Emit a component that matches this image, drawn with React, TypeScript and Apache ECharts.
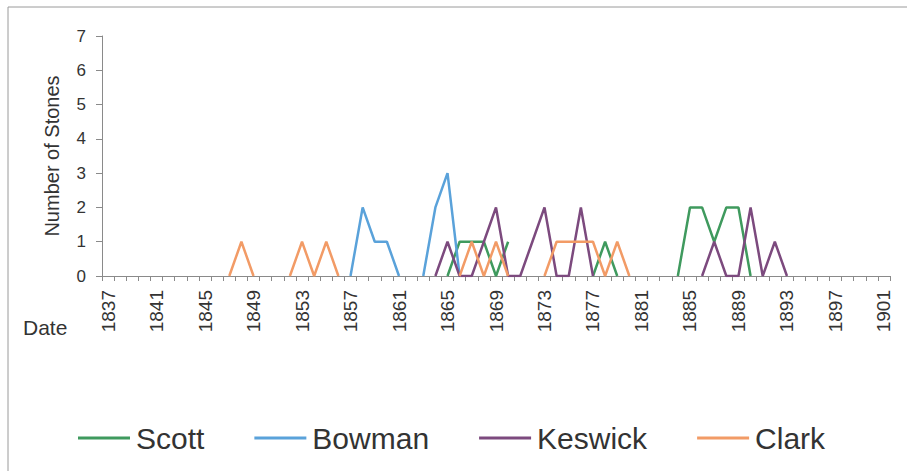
import React, { useEffect, useRef } from "react";
import * as echarts from "echarts";

const years: string[] = [
  "1837","1838","1839","1840","1841","1842","1843","1844","1845","1846",
  "1847","1848","1849","1850","1851","1852","1853","1854","1855","1856",
  "1857","1858","1859","1860","1861","1862","1863","1864","1865","1866",
  "1867","1868","1869","1870","1871","1872","1873","1874","1875","1876",
  "1877","1878","1879","1880","1881","1882","1883","1884","1885","1886",
  "1887","1888","1889","1890","1891","1892","1893","1894","1895","1896",
  "1897","1898","1899","1900","1901",
];

// [year, stones] — years not listed are blank (gaps)
const scott: [number, number][] = [
  [1865, 0], [1866, 1], [1867, 1], [1868, 1], [1869, 0], [1870, 1],
  [1877, 0], [1878, 1], [1879, 0],
  [1884, 0], [1885, 2], [1886, 2], [1887, 1], [1888, 2], [1889, 2], [1890, 0],
];
const bowman: [number, number][] = [
  [1857, 0], [1858, 2], [1859, 1], [1860, 1], [1861, 0],
  [1863, 0], [1864, 2], [1865, 3], [1866, 0],
];
const keswick: [number, number][] = [
  [1864, 0], [1865, 1], [1866, 0], [1867, 0], [1868, 1], [1869, 2], [1870, 0],
  [1871, 0], [1872, 1], [1873, 2], [1874, 0], [1875, 0], [1876, 2], [1877, 0],
  [1886, 0], [1887, 1], [1888, 0], [1889, 0], [1890, 2], [1891, 0], [1892, 1], [1893, 0],
];
const clark: [number, number][] = [
  [1847, 0], [1848, 1], [1849, 0],
  [1852, 0], [1853, 1], [1854, 0], [1855, 1], [1856, 0],
  [1866, 0], [1867, 1], [1868, 0], [1869, 1], [1870, 0],
  [1873, 0], [1874, 1], [1875, 1], [1876, 1], [1877, 1], [1878, 0], [1879, 1], [1880, 0],
];

const seriesNames = ["Scott", "Bowman", "Keswick", "Clark"];
const seriesColors = ["#3f9a5e", "#5aa2da", "#7c4a7e", "#f29b66"];
const seriesPairs = [scott, bowman, keswick, clark];

function toColumn(pairs: [number, number][]): (number | null)[] {
  const m = new Map<string, number>();
  pairs.forEach(([y, v]) => m.set(String(y), v));
  return years.map((y) => (m.has(y) ? (m.get(y) as number) : null));
}

const FONT = "'Liberation Sans', Arial, sans-serif";

export default function App() {
  const ref = useRef<HTMLDivElement>(null);
  useEffect(() => {
    if (!ref.current) return;
    const chart = echarts.init(ref.current, undefined, { renderer: "svg" });
    chart.setOption({
      animation: false,
      backgroundColor: "#ffffff",
      textStyle: { fontFamily: FONT },
      grid: { left: 102, right: 19, top: 36, bottom: 195, containLabel: false },
      legend: {
        data: seriesNames,
        left: 73,
        top: 418,
        icon: "rect",
        itemWidth: 52,
        itemHeight: 3,
        itemGap: 50,
        textStyle: { fontSize: 30, color: "#333", fontFamily: FONT, padding: [0, 0, 0, 1] },
      },
      xAxis: {
        type: "category",
        data: years,
        boundaryGap: true,
        axisLine: { show: true, lineStyle: { color: "#8a8a8a", width: 1 } },
        axisTick: { show: true, interval: 0, length: 5, lineStyle: { color: "#8a8a8a" } },
        axisLabel: {
          interval: 3,
          rotate: 90,
          fontSize: 19,
          color: "#333",
          margin: 14,
          fontFamily: FONT,
        },
        splitLine: { show: false },
      },
      yAxis: {
        type: "value",
        min: 0,
        max: 7,
        interval: 1,
        name: "Number of Stones",
        nameLocation: "middle",
        nameGap: 40,
        nameRotate: 90,
        nameTextStyle: { fontSize: 20, color: "#333", fontFamily: FONT },
        axisLine: { show: true, lineStyle: { color: "#8a8a8a", width: 1 } },
        axisTick: { show: true, length: 6, lineStyle: { color: "#8a8a8a" } },
        axisLabel: { fontSize: 17, color: "#333", margin: 16, fontFamily: FONT },
        splitLine: { show: false },
      },
      series: seriesNames.map((name, i) => ({
        name,
        type: "line",
        data: toColumn(seriesPairs[i]),
        showSymbol: false,
        symbol: "none",
        connectNulls: false,
        color: seriesColors[i],
        lineStyle: { width: 2.5, color: seriesColors[i] },
      })),
      graphic: [
        {
          type: "polyline",
          shape: { points: [[8, 471], [8, 7], [907, 7]] },
          style: { stroke: "#9a9a9a", lineWidth: 1, fill: "none" },
          silent: true,
        },
        {
          type: "text",
          left: 23,
          top: 317,
          style: { text: "Date", fontSize: 21, fill: "#333", fontFamily: FONT },
        },
      ],
    });
    return () => chart.dispose();
  }, []);
  return (
    <div
      ref={ref}
      style={{ position: "fixed", left: 0, top: 0, width: 909, height: 471 }}
    />
  );
}
